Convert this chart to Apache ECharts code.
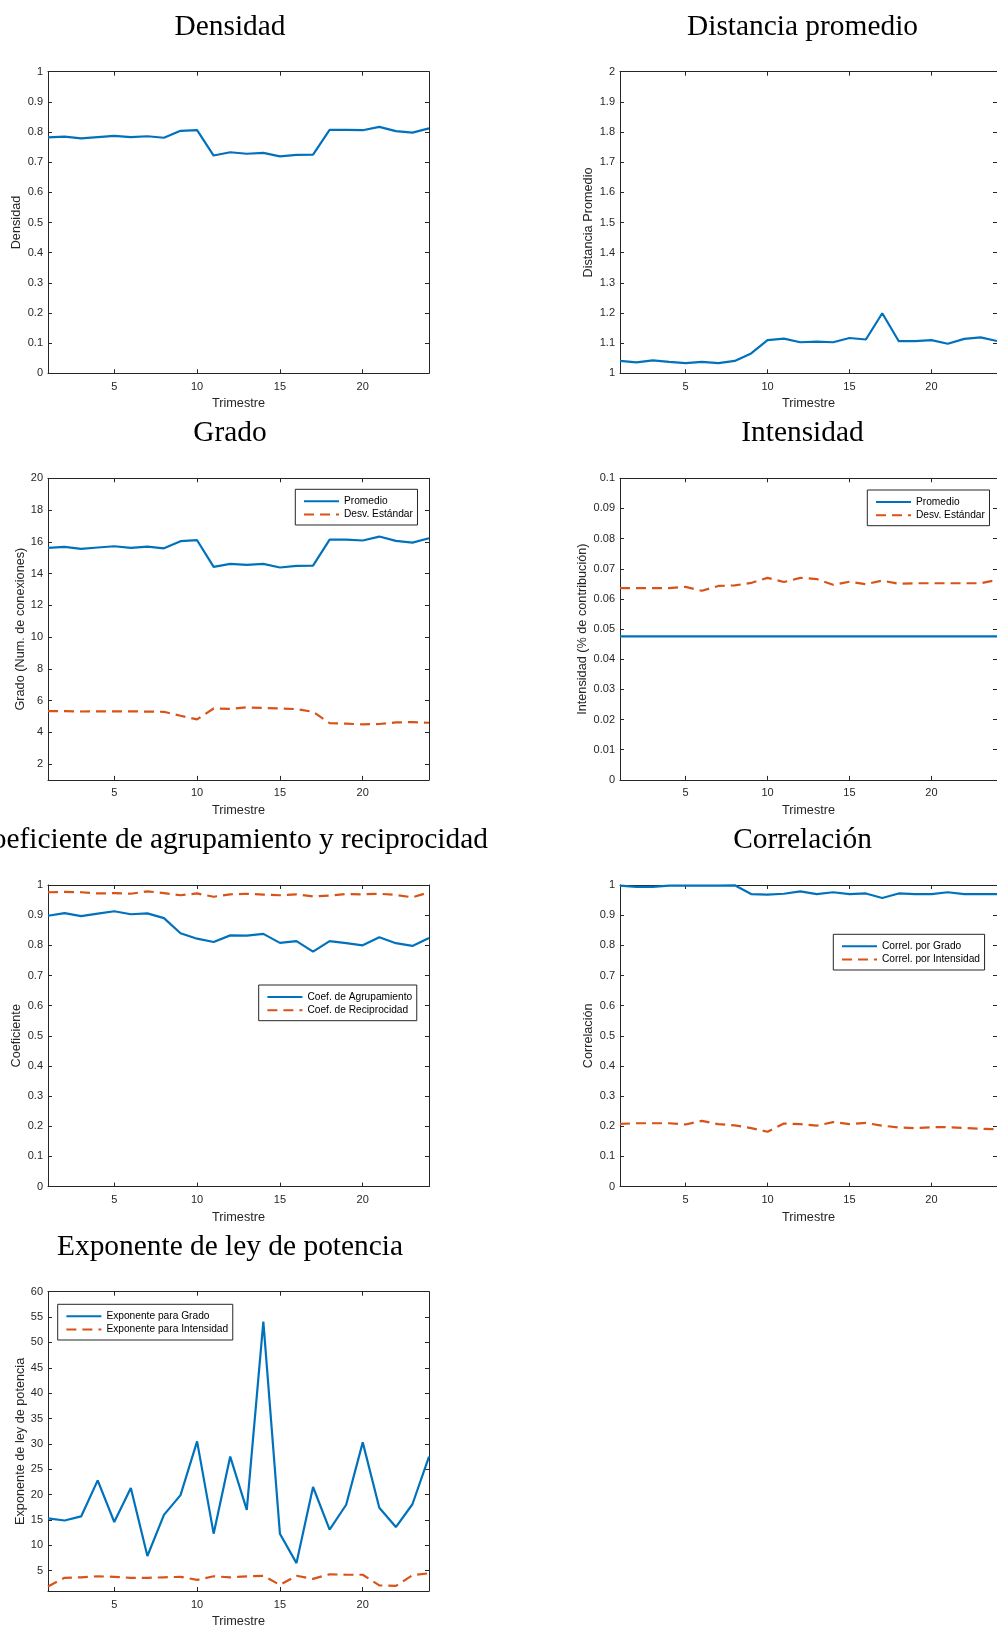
<!DOCTYPE html>
<html><head><meta charset="utf-8">
<script src="https://cdn.jsdelivr.net/npm/echarts@6/dist/echarts.min.js"></script>
<style>html,body{margin:0;padding:0;background:#fff}#c{width:997px;height:1629px}</style>
</head><body><div id="c"></div>
<script>
// ---------- DATA ----------
const trimestres = [1,2,3,4,5,6,7,8,9,10,11,12,13,14,15,16,17,18,19,20,21,22,23,24];
const xTicks = [5,10,15,20];
const gradoTicks = [2,4,6,8,10,12,14,16,18,20];
const expTicks = [5,10,15,20,25,30,35,40,45,50,55,60];

const densidad = [0.782,0.785,0.779,0.783,0.787,0.783,0.786,0.781,0.804,0.806,0.722,0.733,0.728,0.731,0.719,0.724,0.725,0.807,0.807,0.806,0.817,0.803,0.798,0.812];
const distancia = [1.041,1.036,1.043,1.038,1.034,1.038,1.034,1.041,1.066,1.110,1.115,1.103,1.105,1.103,1.117,1.112,1.199,1.107,1.107,1.110,1.098,1.114,1.119,1.107];
const gradoProm = [15.62,15.68,15.55,15.64,15.72,15.62,15.70,15.59,16.04,16.10,14.42,14.61,14.55,14.61,14.38,14.48,14.50,16.14,16.14,16.08,16.33,16.06,15.95,16.22];
const gradoDesv = [5.33,5.33,5.31,5.32,5.32,5.32,5.30,5.29,5.04,4.81,5.50,5.48,5.57,5.53,5.50,5.46,5.29,4.58,4.54,4.50,4.52,4.62,4.64,4.60];
const intensProm = [0.0476,0.0476,0.0476,0.0476,0.0476,0.0476,0.0476,0.0476,0.0476,0.0476,0.0476,0.0476,0.0476,0.0476,0.0476,0.0476,0.0476,0.0476,0.0476,0.0476,0.0476,0.0476,0.0476,0.0476];
const intensDesv = [0.0636,0.0636,0.0636,0.0636,0.0640,0.0627,0.0643,0.0645,0.0653,0.0670,0.0656,0.0670,0.0666,0.0647,0.0657,0.0649,0.0661,0.0650,0.0652,0.0652,0.0652,0.0652,0.0652,0.0663];
const coefAgrup = [0.898,0.907,0.897,0.905,0.913,0.903,0.906,0.890,0.840,0.822,0.811,0.833,0.832,0.838,0.808,0.814,0.779,0.814,0.807,0.800,0.827,0.807,0.798,0.824];
const coefRecip = [0.976,0.977,0.976,0.972,0.973,0.971,0.979,0.973,0.966,0.972,0.961,0.969,0.971,0.968,0.966,0.969,0.962,0.965,0.970,0.969,0.971,0.967,0.959,0.976];
const corrGrado = [0.998,0.994,0.994,0.998,0.998,0.998,0.998,0.999,0.970,0.968,0.971,0.979,0.970,0.976,0.970,0.972,0.957,0.972,0.970,0.970,0.976,0.970,0.970,0.970];
const corrIntens = [0.208,0.210,0.210,0.210,0.206,0.218,0.207,0.203,0.194,0.182,0.209,0.207,0.202,0.214,0.207,0.211,0.202,0.196,0.194,0.197,0.197,0.194,0.192,0.190];
const expGrado = [15.3,14.9,15.7,22.8,14.6,21.3,7.9,16.0,19.9,30.5,12.3,27.5,17.0,54.1,12.3,6.5,21.5,13.1,18.0,30.3,17.4,13.6,18.1,27.5];
const expIntens = [1.9,3.6,3.7,3.9,3.8,3.6,3.6,3.7,3.8,3.2,3.9,3.7,3.9,4.0,2.2,4.0,3.4,4.3,4.2,4.2,2.1,2.0,4.1,4.5];

// ---------- STYLE / LAYOUT ----------
const BLUE = '#0072BD', ORANGE = '#D95319', AX = '#262626';
const DASH = [10, 6];
const colLeft = [48, 620], gridW = 381, gridH = 301.6;
const rowTop = [71.7, 478.3, 885, 1291.7];
const titleCenter = [230, 802.5];
const titleTop0 = 12.5, rowStep = 406.67;

const panels = [
  {title:'Densidad', col:0,row:0, yName:'Densidad', yMin:0,yMax:1,yInt:0.1, nameGap:25,
   series:[{name:'Densidad', data:densidad, color:BLUE}]},
  {title:'Distancia promedio', col:1,row:0, yName:'Distancia Promedio', yMin:1,yMax:2,yInt:0.1, nameGap:25.5,
   series:[{name:'Distancia promedio', data:distancia, color:BLUE}]},
  {title:'Grado', col:0,row:1, yName:'Grado (Num. de conexiones)', yMin:1,yMax:20,yTicks:gradoTicks, nameGap:21.5,
   series:[{name:'Promedio', data:gradoProm, color:BLUE},{name:'Desv. Estándar', data:gradoDesv, color:ORANGE, dash:true}],
   legend:{left:295.3, top:489.3}},
  {title:'Intensidad', col:1,row:1, yName:'Intensidad (% de contribución)', yMin:0,yMax:0.1,yInt:0.01, nameGap:31.3,
   series:[{name:'Promedio', data:intensProm, color:BLUE},{name:'Desv. Estándar', data:intensDesv, color:ORANGE, dash:true}],
   legend:{left:867.3, top:490}},
  {title:'Coeficiente de agrupamiento y reciprocidad', col:0,row:2, yName:'Coeficiente', yMin:0,yMax:1,yInt:0.1, nameGap:25.5,
   series:[{name:'Coef. de Agrupamiento', data:coefAgrup, color:BLUE},{name:'Coef. de Reciprocidad', data:coefRecip, color:ORANGE, dash:true}],
   legend:{left:258.7, top:985}},
  {title:'Correlación', col:1,row:2, yName:'Correlación', yMin:0,yMax:1,yInt:0.1, nameGap:25.3,
   series:[{name:'Correl. por Grado', data:corrGrado, color:BLUE},{name:'Correl. por Intensidad', data:corrIntens, color:ORANGE, dash:true}],
   legend:{left:833.3, top:934.3}},
  {title:'Exponente de ley de potencia', col:0,row:3, yName:'Exponente de ley de potencia', yMin:1,yMax:60,yTicks:expTicks, nameGap:21.5,
   series:[{name:'Exponente para Grado', data:expGrado, color:BLUE},{name:'Exponente para Intensidad', data:expIntens, color:ORANGE, dash:true}],
   legend:{left:57.7, top:1304.3}}
];

const FONT = 'Liberation Sans';
const option = {
  animation:false, backgroundColor:'#fff',
  textStyle:{fontFamily:FONT},
  title:[], grid:[], xAxis:[], yAxis:[], series:[], legend:[]
};

panels.forEach((p, i) => {
  option.title.push({
    text:p.title, left:titleCenter[p.col], top:titleTop0 + p.row*rowStep, textAlign:'center', padding:0,
    textStyle:{fontFamily:'Liberation Serif', fontSize:29.4, fontWeight:'normal', color:'#000'}
  });
  option.grid.push({left:colLeft[p.col], top:rowTop[p.row], width:gridW, height:gridH, containLabel:false});
  const lineCommon = {show:true, onZero:false, lineStyle:{color:AX, width:1}};
  option.xAxis.push({
    gridIndex:i, type:'value', min:1, max:24, position:'bottom',
    axisLine:lineCommon, splitLine:{show:false},
    axisTick:{inside:true, length:4, lineStyle:{color:AX}, customValues:xTicks},
    axisLabel:{fontSize:11, color:AX, margin:8, customValues:xTicks, fontFamily:FONT},
    name:'Trimestre', nameLocation:'middle', nameGap:24,
    nameTextStyle:{fontSize:12.7, color:AX, fontFamily:FONT}
  });
  option.xAxis.push({
    gridIndex:i, type:'value', min:1, max:24, position:'top',
    axisLine:lineCommon, splitLine:{show:false},
    axisTick:{inside:true, length:4, lineStyle:{color:AX}, customValues:xTicks},
    axisLabel:{show:false}
  });
  const yBase = {gridIndex:i, type:'value', min:p.yMin, max:p.yMax, splitLine:{show:false}, axisLine:lineCommon};
  const tick = {inside:true, length:4, lineStyle:{color:AX}};
  const lab = {fontSize:11, color:AX, margin:5, fontFamily:FONT};
  if (p.yTicks) { tick.customValues = p.yTicks; lab.customValues = p.yTicks; }
  else { yBase.interval = p.yInt; }
  option.yAxis.push(Object.assign({}, yBase, {
    position:'left', axisTick:tick, axisLabel:lab,
    name:p.yName, nameLocation:'middle', nameGap:p.nameGap,
    nameTextStyle:{fontSize:12.7, color:AX, fontFamily:FONT}
  }));
  option.yAxis.push(Object.assign({}, yBase, {
    position:'right', axisTick:Object.assign({}, tick), axisLabel:{show:false}
  }));
  p.series.forEach(s => {
    option.series.push({
      type:'line', name:s.name, xAxisIndex:2*i, yAxisIndex:2*i,
      data:trimestres.map((t, k) => [t, s.data[k]]),
      symbol:'none', showSymbol:false, smooth:false,
      lineStyle:{color:s.color, width:2.2, type:s.dash ? DASH : 'solid'},
      itemStyle:{color:s.color}
    });
  });
  if (p.legend) {
    option.legend.push({
      orient:'vertical', left:p.legend.left, top:p.legend.top,
      itemWidth:35, itemHeight:14, itemGap:2.1,
      padding:[6.3,4.6,4.9,7.7], borderColor:AX, borderWidth:1, backgroundColor:'#fff',
      textStyle:{fontSize:10.2, color:'#000', fontFamily:FONT},
      itemStyle:{opacity:0}, selectedMode:false,
      data:p.series.map(s => s.name)
    });
  }
});

const chart = echarts.init(document.getElementById('c'), null, {renderer:'canvas'});
chart.setOption(option);
</script></body></html>
